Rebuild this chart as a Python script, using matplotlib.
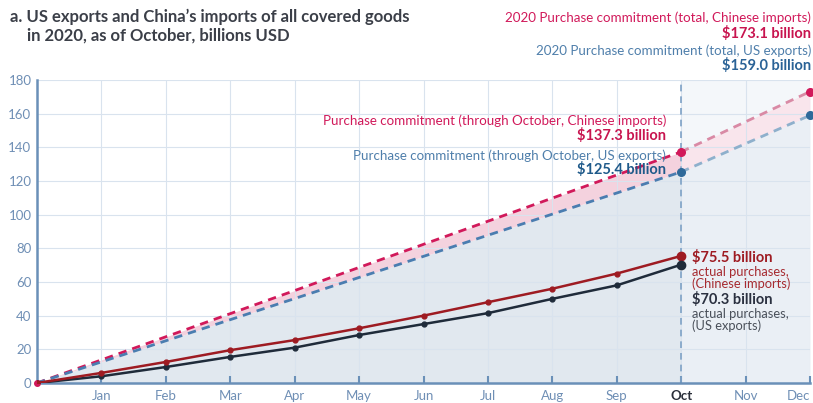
import matplotlib
matplotlib.use("Agg")
import matplotlib.pyplot as plt
import matplotlib.transforms as mtrans
import numpy as np

plt.rcParams['font.family'] = ['Lato', 'DejaVu Sans']

months = ["Jan", "Feb", "Mar", "Apr", "May", "Jun", "Jul", "Aug", "Sep", "Oct", "Nov", "Dec"]
actual_cn = [0, 6, 12.5, 19.5, 25.5, 32.5, 40, 48, 56, 65, 75.5]
actual_us = [0, 4, 9.5, 15.5, 21, 28.5, 35, 41.5, 50, 58, 70.3]
commit_cn = [0, 137.3, 173.1]
commit_us = [0, 125.4, 159.0]
commit_pos = [0, 10, 12]
yticks = [0, 20, 40, 60, 80, 100, 120, 140, 160, 180]

C_PINK = "#d1195a"
C_BLUE = "#4a7db0"
C_RED = "#9e1b22"
C_DARK = "#1f2b3a"
AX = "#6a90b8"

fig = plt.figure(figsize=(8.13, 4.03), dpi=100)
ax = fig.add_axes([37/813, 20/403, (810-37)/813, (383-80)/403])
ax.set_xlim(0, 12)
ax.set_ylim(0, 180)

ax.axvspan(10, 12, color="#f4f7fa", zorder=0)

cx = np.array(commit_pos, dtype=float)
cn = np.array(commit_cn)
us = np.array(commit_us)
ax.fill_between(cx[:2], 0, us[:2], color="#e1e8ef", zorder=1, lw=0)
ax.fill_between(cx[:2], us[:2], cn[:2], color="#f4d2de", zorder=1, lw=0)
ax.fill_between(cx[1:], 0, us[1:], color="#eaeff5", zorder=1, lw=0)
ax.fill_between(cx[1:], us[1:], cn[1:], color="#f9e5ec", zorder=1, lw=0)

for v in range(1, 13):
    ax.axvline(v, color="#d9e3ee", lw=0.8, zorder=1.5)
for t in yticks[1:]:
    ax.axhline(t, color="#d9e3ee", lw=0.8, zorder=1.5)

ax.axvline(10, color="#7ea2c6", lw=1.2, ls=(0, (4, 3)), zorder=2)

ax.plot(cx[:2], cn[:2], color=C_PINK, lw=2, ls=(0, (3, 2.2)), zorder=3)
ax.plot(cx[:2], us[:2], color=C_BLUE, lw=2, ls=(0, (3, 2.2)), zorder=3)
ax.plot(cx[1:], cn[1:], color="#d98aa5", lw=2, ls=(0, (3, 2.2)), zorder=3)
ax.plot(cx[1:], us[1:], color="#8eb0cc", lw=2, ls=(0, (3, 2.2)), zorder=3)
ax.plot(cx[1:], cn[1:], 'o', color=C_PINK, ms=5.5, zorder=4, clip_on=False)
ax.plot(cx[1:], us[1:], 'o', color="#2f6a9a", ms=5.5, zorder=4, clip_on=False)
ax.plot([0], [0], 'o', color=C_PINK, ms=4, zorder=4, clip_on=False)

xa = np.arange(len(actual_cn))
ax.plot(xa, actual_us, color=C_DARK, lw=1.8, marker='o', ms=3.5, zorder=5)
ax.plot(xa, actual_cn, color=C_RED, lw=1.8, marker='o', ms=3.5, zorder=5)
ax.plot([10], [actual_cn[-1]], 'o', color=C_RED, ms=6, zorder=6)
ax.plot([10], [actual_us[-1]], 'o', color=C_DARK, ms=6, zorder=6)

for s in ["top", "right"]:
    ax.spines[s].set_visible(False)
for s in ["left", "bottom"]:
    ax.spines[s].set_color(AX)
    ax.spines[s].set_linewidth(1.8)
ax.set_yticks(yticks)
ax.set_yticklabels([str(t) for t in yticks], color="#6f8fb5", fontsize=9.5)
ax.tick_params(axis='y', length=0, pad=4)
ax.set_xticks(range(1, 13))
ax.set_xticklabels(months, color="#6f8fb5", fontsize=9.5)
ax.tick_params(axis='x', direction='in', length=5, width=1.5, color=AX, pad=5)
lbls = ax.get_xticklabels()
lbls[9].set_color("#2a2f3a")
lbls[9].set_fontweight("bold")
lbls[11].set_transform(lbls[11].get_transform() + mtrans.ScaledTranslation(-0.12, 0, fig.dpi_scale_trans))

fig.text(10/813, 1 - 9/403, "a. US exports and China\u2019s imports of all covered goods",
         fontsize=12, fontweight='bold', color="#3b3f48", va='top', ha='left')
fig.text(27/813, 1 - 28/403, "in 2020, as of October, billions USD",
         fontsize=12, fontweight='bold', color="#3b3f48", va='top', ha='left')

fr = 811/813
fig.text(fr, 1 - 18/403, "2020 Purchase commitment (total, Chinese imports)", fontsize=9.6,
         color=C_PINK, ha='right', va='center')
fig.text(fr, 1 - 33/403, "$173.1 billion", fontsize=10.5, fontweight='bold',
         color="#c8144f", ha='right', va='center')
fig.text(fr, 1 - 51/403, "2020 Purchase commitment (total, US exports)", fontsize=9.6,
         color="#4f7fab", ha='right', va='center')
fig.text(fr, 1 - 65/403, "$159.0 billion", fontsize=10.5, fontweight='bold',
         color="#2a6296", ha='right', va='center')

mr = 666/813
fig.text(mr, 1 - 121/403, "Purchase commitment (through October, Chinese imports)", fontsize=9.6,
         color=C_PINK, ha='right', va='center')
fig.text(mr, 1 - 135/403, "$137.3 billion", fontsize=10.5, fontweight='bold',
         color="#c8144f", ha='right', va='center')
fig.text(mr, 1 - 156/403, "Purchase commitment (through October, US exports)", fontsize=9.6,
         color="#4f7fab", ha='right', va='center')
fig.text(mr, 1 - 170/403, "$125.4 billion", fontsize=10.5, fontweight='bold',
         color="#1f5a8a", ha='right', va='center')

rl = 692/813
fig.text(rl, 1 - 258/403, "$75.5 billion", fontsize=10.5, fontweight='bold',
         color=C_RED, ha='left', va='center')
fig.text(rl, 1 - 272/403, "actual purchases,", fontsize=9.3, color="#a62a30", ha='left', va='center')
fig.text(rl, 1 - 284/403, "(Chinese imports)", fontsize=9.3, color="#a62a30", ha='left', va='center')
fig.text(rl, 1 - 300/403, "$70.3 billion", fontsize=10.5, fontweight='bold',
         color="#2a3040", ha='left', va='center')
fig.text(rl, 1 - 314/403, "actual purchases,", fontsize=9.3, color="#4a505a", ha='left', va='center')
fig.text(rl, 1 - 326/403, "(US exports)", fontsize=9.3, color="#4a505a", ha='left', va='center')

fig.savefig("out.png", dpi=100)
